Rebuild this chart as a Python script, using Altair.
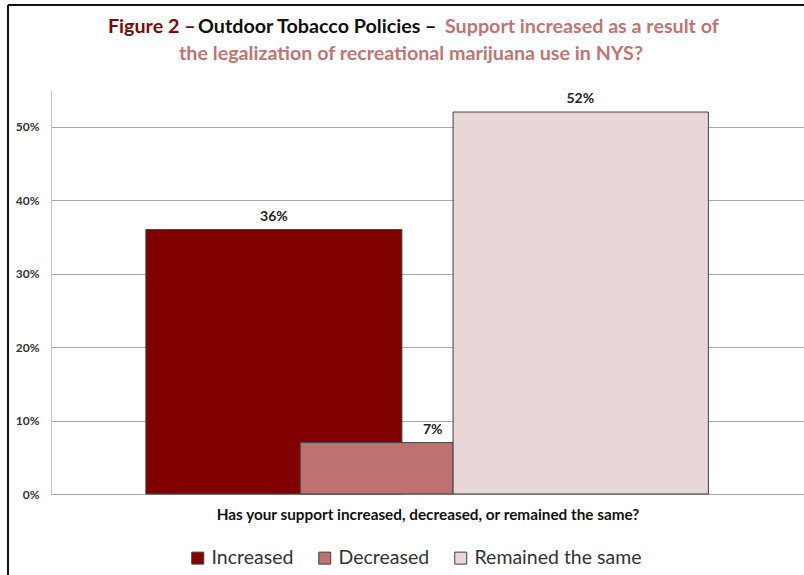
import altair as alt
import pandas as pd

# ---- data ----
categories = ["Increased", "Decreased", "Remained the same"]
values = [0.36, 0.07, 0.52]
value_labels = ["36%", "7%", "52%"]
colors = ["#800000", "#BF7171", "#E9D6D6"]
y_ticks = [0, 0.1, 0.2, 0.3, 0.4, 0.5]

title_a = "Figure 2 \u2013"
title_b = "Outdoor Tobacco Policies \u2013"
title_c = "Support increased as a result of"
title_d = "the legalization of recreational marijuana use in NYS?"
x_title = "Has your support increased, decreased, or remained the same?"

# ---- layout (x units, 0-100 across the plot area) ----
bar_start = [12.6, 33.1, 53.4]
bar_end = [46.6, 53.4, 87.3]
label_x = [29.6, 50.7, 70.3]

FONT = "Lato"

df = pd.DataFrame({
    "category": categories,
    "value": values,
    "label": value_labels,
    "x0": bar_start,
    "x1": bar_end,
    "lx": label_x,
})

xscale = alt.Scale(domain=[0, 100], nice=False)
yscale = alt.Scale(domain=[0, 0.55], nice=False)

base = alt.Chart(df)

bars = base.mark_bar(stroke="#404040", strokeWidth=1).encode(
    x=alt.X("x0:Q", scale=xscale,
            axis=alt.Axis(labels=False, ticks=False, domain=False, grid=False,
                          title=x_title, titleFont=FONT, titleFontSize=15.3,
                          titleFontWeight="bold", titleColor="#111",
                          titlePadding=13)),
    x2="x1:Q",
    y=alt.Y("value:Q", scale=yscale,
            axis=alt.Axis(values=y_ticks, format=".0%", title=None,
                          labelFont=FONT, labelFontSize=12, labelFontWeight="bold",
                          labelColor="#333", labelPadding=12, ticks=False,
                          domainColor="#c4c4c4", gridColor="#a8a8a8")),
    y2=alt.datum(0),
    color=alt.Color("category:N", sort=categories,
                    scale=alt.Scale(domain=categories, range=colors),
                    legend=alt.Legend(title=None, orient="none", legendX=137, legendY=458,
                                      direction="horizontal", symbolType="square",
                                      symbolSize=144, labelFont=FONT, labelFontSize=19.5,
                                      labelColor="#333", columnPadding=21, labelOffset=4,
                                      labelLimit=400,
                                      symbolStrokeColor="#404040", symbolStrokeWidth=1)),
)

labels = base.mark_text(font=FONT, fontSize=14, fontWeight="bold", color="#222",
                        baseline="bottom", dy=-6).encode(
    x=alt.X("lx:Q", scale=xscale),
    y=alt.Y("value:Q", scale=yscale),
    text="label:N",
)


def title_piece(txt, x, y, color, align):
    return alt.Chart(pd.DataFrame({"t": [txt]})).mark_text(
        font=FONT, fontSize=19.7, fontWeight="bold", color=color,
        align=align, baseline="middle").encode(
        text="t:N", x=alt.value(x), y=alt.value(y))


t1 = title_piece(title_a, 57, -63, "#7A0A0A", "left")
t2 = title_piece(title_b, 147, -63, "#111111", "left")
t3 = title_piece(title_c, 394, -63, "#C07474", "left")
t4 = title_piece(title_d, 360, -36, "#C07474", "center")

frame_left = alt.Chart(pd.DataFrame({"a": [0]})).mark_rule(color="#111", strokeWidth=2).encode(
    x=alt.value(-43), y=alt.value(-85), y2=alt.value(490))
frame_top = alt.Chart(pd.DataFrame({"a": [0]})).mark_rule(color="#111", strokeWidth=2).encode(
    x=alt.value(-43), x2=alt.value(760), y=alt.value(-85))

chart = alt.layer(bars, labels, t1, t2, t3, t4, frame_left, frame_top).properties(
    width=753, height=404,
    autosize=alt.AutoSizeParams(type="none"),
    padding={"left": 51, "top": 90, "right": 0, "bottom": 81},
    background="white",
).configure_view(stroke=None)

chart.save("out.html", embed_options={"renderer": "svg", "actions": False})
